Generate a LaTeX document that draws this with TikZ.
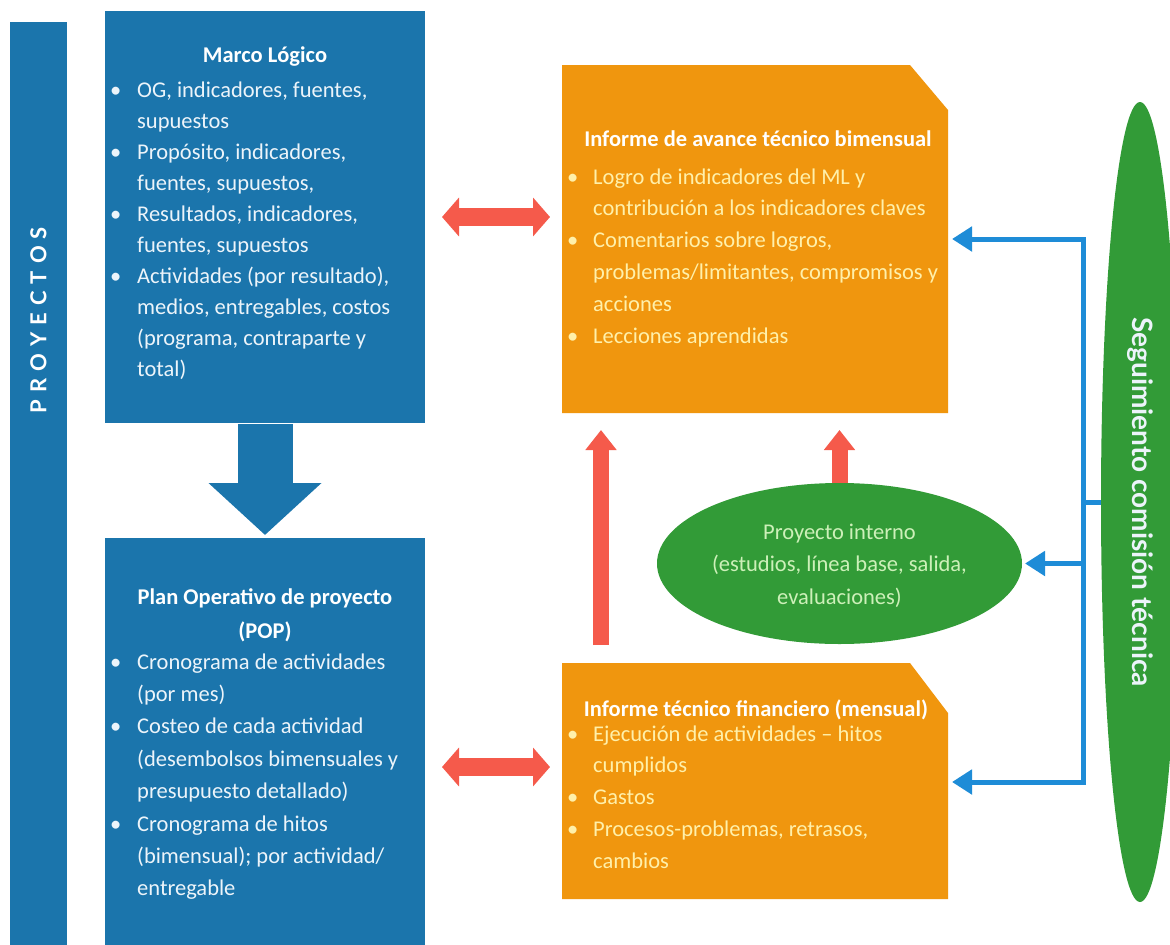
\documentclass[tikz,border=0pt]{standalone}
\usepackage{fontspec}
\setmainfont{Carlito}
\newfontfamily\labelfont{Lato}
\usetikzlibrary{arrows.meta,shapes.geometric,calc}

\definecolor{boxblue}{RGB}{27,117,172}
\definecolor{boxorange}{RGB}{240,150,14}
\definecolor{leafgreen}{RGB}{50,155,55}
\definecolor{arrowred}{RGB}{245,90,75}
\definecolor{linkblue}{RGB}{30,140,215}
\definecolor{paletext}{RGB}{236,244,250}
\definecolor{creamtext}{RGB}{255,240,170}
\definecolor{minttext}{RGB}{205,240,185}

% bullet items with hanging indent (blue panels / orange panels), and a forced line break
\newcommand\bitem{\par\noindent\hangindent=27pt\hangafter=1\makebox[27pt][l]{\textbullet}}
\newcommand\oitem{\par\noindent\hangindent=26pt\hangafter=1\makebox[26pt][l]{\textbullet}}
\newcommand\nl{\hfil\break}
% top-aligned text block: width, line pitch, content
\newcommand\textblock[3]{\begin{minipage}[t]{#1}\fontsize{22.5}{#2}\selectfont #3\end{minipage}}

\tikzset{
  panel/.style={inner sep=0pt, outer sep=0pt},
  bodytext/.style={anchor=base west, inner sep=0pt},
  titletext/.style={anchor=base, inner sep=0pt, font=\bfseries\fontsize{22.5}{27}\selectfont},
  redarrow/.style={draw=arrowred, line width=16pt, -{Triangle[width=30pt,length=20pt]}},
  redboth/.style={draw=arrowred, line width=18pt,
    {Triangle[width=38pt,length=17pt]}-{Triangle[width=38pt,length=17pt]}},
  bluelink/.style={draw=linkblue, line width=5pt, line join=miter,
    {Triangle[width=24pt,length=20pt]}-{Triangle[width=24pt,length=20pt]}},
  blueline/.style={draw=linkblue, line width=5pt},
}

\begin{document}
\begin{tikzpicture}[x=1pt,y=-1pt]
\useasboundingbox (0,0) rectangle (1170,945);
\fill[white] (0,0) rectangle (1170,945);

% left column: project bar and the two blue panels
\node[panel, fill=boxblue, minimum width=57pt, minimum height=923pt] (pb) at (38.5,483.5) {};
\node[inner sep=0pt, rotate=90, text=white, font=\labelfont\bfseries\fontsize{22}{26}\selectfont] (pbl) at (38.5,320)
  {P\kern7pt R\kern7pt O\kern7pt Y\kern7pt E\kern7pt C\kern7pt T\kern7pt O\kern7pt S};

\node[panel, fill=boxblue, minimum width=320pt, minimum height=412pt] (ml) at (265,217) {};
\node[panel, fill=boxblue, minimum width=320pt, minimum height=407pt] (pop) at (265,741.5) {};

% orange report panels (clipped top-right corner)
\node[panel, minimum width=386pt, minimum height=348pt] (ot) at (755,239) {};
\node[panel, minimum width=386pt, minimum height=236pt] (ob) at (755,781) {};
\fill[boxorange] (ot.north west) -- ([xshift=-38pt]ot.north east) -- ([yshift=-45pt]ot.north east)
  -- (ot.south east) -- (ot.south west) -- cycle;
\fill[boxorange] (ob.north west) -- ([xshift=-38pt]ob.north east) -- ([yshift=-50pt]ob.north east)
  -- (ob.south east) -- (ob.south west) -- cycle;

% green ellipses
\node[ellipse, panel, fill=leafgreen, minimum width=365pt, minimum height=161pt] (pi) at (839.5,563.5) {};
\node[ellipse, panel, fill=leafgreen, minimum width=78pt, minimum height=800pt] (sg) at (1140,502) {};
\node[inner sep=0pt, rotate=-90, text=paletext, font=\labelfont\bfseries\fontsize{28}{32}\selectfont] (sgl) at (1140,502)
  {Seguimiento comisión técnica};

% panel texts
\node[titletext, text=white] (mlt) at (265,62) {Marco Lógico};
\node[bodytext, text=paletext] (mlb) at (110,97) {\textblock{305pt}{31}{%
\bitem OG, indicadores, fuentes,\nl supuestos
\bitem Propósito, indicadores,\nl fuentes, supuestos,
\bitem Resultados, indicadores,\nl fuentes, supuestos
\bitem Actividades (por resultado),\nl medios, entregables, costos\nl (programa, contraparte y\nl total)}};

\node[titletext, text=white] (popt) at (265,604)
  {\begin{minipage}[t]{310pt}\centering\fontsize{22.5}{34}\selectfont Plan Operativo de proyecto\\ (POP)\end{minipage}};
\node[bodytext, text=paletext] (popb) at (110,669) {\textblock{305pt}{32.4}{%
\bitem Cronograma de actividades\nl (por mes)
\bitem Costeo de cada actividad\nl (desembolsos bimensuales y\nl presupuesto detallado)
\bitem Cronograma de hitos\nl (bimensual); por actividad/\nl entregable}};

\node[titletext, text=white] (ott) at (758,146) {Informe de avance técnico bimensual};
\node[bodytext, text=creamtext] (otb) at (567,184) {\textblock{380pt}{31.8}{%
\oitem Logro de indicadores del ML y\nl contribución a los indicadores claves
\oitem Comentarios sobre logros,\nl problemas/limitantes, compromisos y\nl acciones
\oitem Lecciones aprendidas}};

\node[titletext, text=white] (obt) at (756,716) {Informe técnico financiero (mensual)};
\node[bodytext, text=creamtext] (obb) at (567,741) {\textblock{380pt}{31.75}{%
\oitem Ejecución de actividades – hitos\nl cumplidos
\oitem Gastos
\oitem Procesos-problemas, retrasos,\nl cambios}};

\node[anchor=base, inner sep=0pt, text=minttext] (pit) at (839.5,539)
  {\begin{minipage}[t]{360pt}\centering\fontsize{22.5}{32.5}\selectfont
   Proyecto interno\\ (estudios, línea base, salida,\\ evaluaciones)\end{minipage}};

% connectors
\coordinate (yt) at (0,217);
\coordinate (yb) at (0,767);
\coordinate (xl) at (601,0);
\coordinate (bt) at (1083,239);
\coordinate (bb) at (1083,782);
\coordinate (bm) at (1083,502);
\coordinate (bp) at (1083,563.5);

\draw[draw=boxblue, line width=55pt, -{Triangle[width=110pt,length=52pt]}, shorten <=1pt, shorten >=3pt]
  (ml.south) -- (pop.north);

\draw[redboth, shorten <=17pt, shorten >=12pt] (ml.east |- yt) -- (ot.west |- yt);
\draw[redboth, shorten <=17pt, shorten >=12pt] (pop.east |- yb) -- (ob.west |- yb);

\draw[redarrow, shorten <=18pt, shorten >=17pt] (ob.north -| xl) -- (ot.south -| xl);
\draw[redarrow, shorten >=17pt] (pi.north) -- (pi.north |- ot.south);

\draw[bluelink, shorten <=4pt, shorten >=4pt] (ot.east |- bt) -- (bt) -- (bb) -- (ob.east |- bb);
\draw[blueline] (bm) -- (sg.west);
\draw[blueline, -{Triangle[width=24pt,length=20pt]}, shorten >=3pt] (bp) -- (pi.east);
\end{tikzpicture}
\end{document}
